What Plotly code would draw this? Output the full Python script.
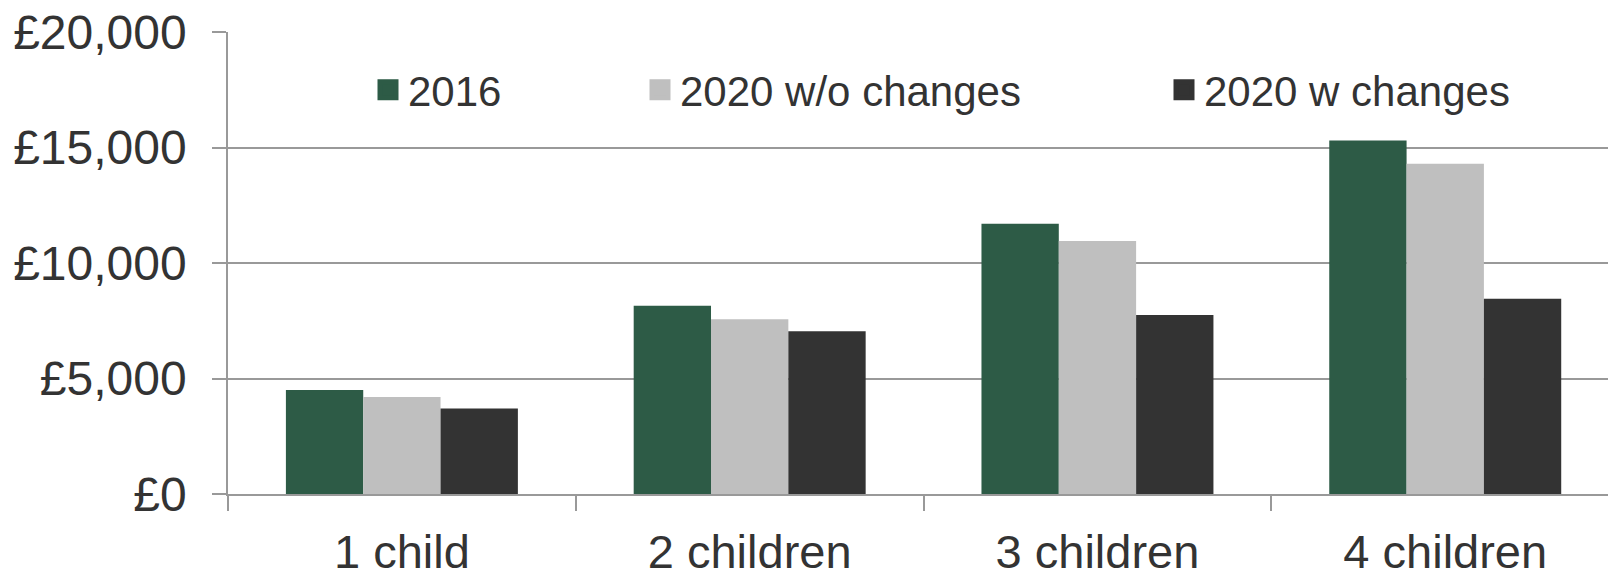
import plotly.graph_objects as go

# Annual amounts by number of children
categories = ["1 child", "2 children", "3 children", "4 children"]
series_names = ["2016", "2020 w/o changes", "2020 w changes"]
values_2016 = [4500, 8150, 11700, 15300]
values_2020_without = [4200, 7570, 10950, 14300]
values_2020_with = [3700, 7050, 7750, 8450]
y_ticks = [0, 5000, 10000, 15000, 20000]
y_tick_labels = ["£0", "£5,000", "£10,000", "£15,000", "£20,000"]

colors = ["#2D5B46", "#BFBFBF", "#333333"]
FONT = "Liberation Sans, Arial, sans-serif"
TEXT = "#333333"
LINE = "#999999"
W, H = 1608, 571

series = [values_2016, values_2020_without, values_2020_with]

fig = go.Figure()
for name, vals, col in zip(series_names, series, colors):
    fig.add_trace(go.Bar(
        x=categories, y=vals, name=name, showlegend=False,
        marker=dict(color=col, line=dict(width=0)),
    ))

# Legend entries: one small legend per series, placed along the top
legend_ids = ["legend", "legend2", "legend3"]
legend_left_px = [368, 640, 1164]
for name, col, lid in zip(series_names, colors, legend_ids):
    fig.add_trace(go.Scatter(
        x=[None], y=[None], mode="markers", name=name, legend=lid,
        marker=dict(symbol="square", size=16, color=col,
                    line=dict(color=col, width=5)),
    ))

legend_common = dict(
    orientation="h", xref="container", yref="container",
    xanchor="left", yanchor="middle", y=1 - 90 / H,
    font=dict(family=FONT, size=42, color=TEXT),
    bgcolor="rgba(0,0,0,0)", borderwidth=0,
)
layout_legends = {}
for lid, px in zip(legend_ids, legend_left_px):
    layout_legends[lid] = dict(legend_common, x=px / W)

fig.update_layout(
    width=W, height=H,
    margin=dict(l=228, r=0, t=32, b=77, pad=0, autoexpand=False),
    paper_bgcolor="white", plot_bgcolor="white",
    barmode="group", bargap=0.333, bargroupgap=0,
    font=dict(family=FONT, size=46, color=TEXT),
    **layout_legends,
)

fig.update_xaxes(
    type="category", range=[-0.5, 3.468],
    tickson="boundaries", ticks="outside", ticklen=15,
    tickwidth=1.5, tickcolor=LINE,
    showline=True, linecolor=LINE, linewidth=1.5,
    showgrid=False, zeroline=False,
    tickfont=dict(family=FONT, size=47, color=TEXT),
    ticklabelstandoff=16,
)
fig.update_yaxes(
    range=[0, 20000.5], tickvals=y_ticks, ticktext=y_tick_labels,
    ticks="outside", ticklen=14, tickwidth=1.5, tickcolor=LINE,
    showline=True, linecolor=LINE, linewidth=1.5,
    showgrid=True, gridcolor=LINE, gridwidth=1.5,
    zeroline=False,
    tickfont=dict(family=FONT, size=48, color=TEXT),
    ticklabelstandoff=16,
)

fig.write_html("out.html")
